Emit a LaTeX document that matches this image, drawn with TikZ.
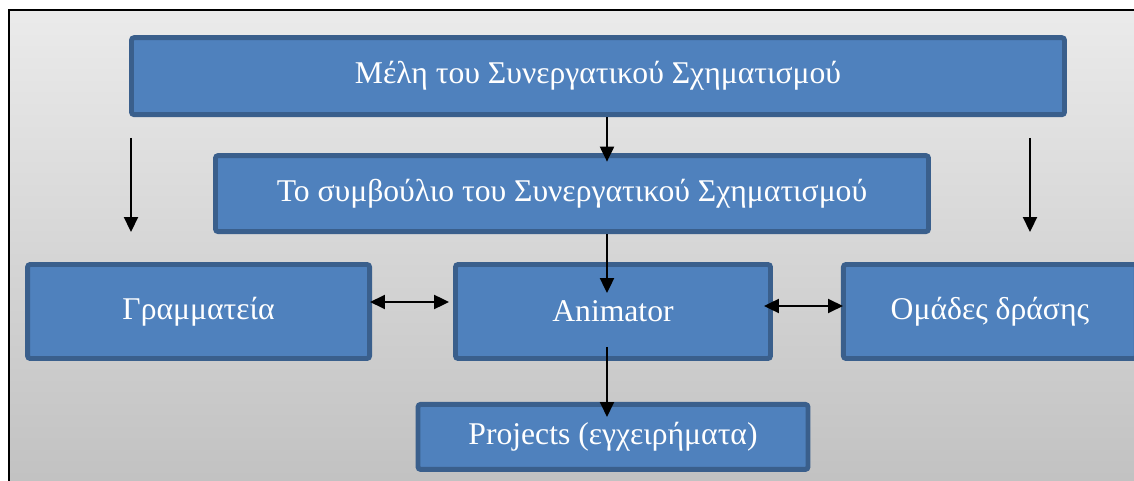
\documentclass[tikz,border=0pt]{standalone}
\usepackage{fontspec}
\setmainfont{Liberation Serif}
\usepackage{tikz}
\usetikzlibrary{positioning,calc}
\usetikzlibrary{arrows.meta}

\definecolor{boxfill}{HTML}{4F81BD}
\definecolor{boxline}{HTML}{3A5F8C}

\begin{document}
\begin{tikzpicture}[
  box/.style = {
    draw = boxline,
    fill = boxfill,
    line width = 2.8pt,
    rounded corners = 1.5pt,
    text = white,
    font = \fontsize{18}{20}\selectfont,
    inner sep = 0pt,
  },
  link/.style = {
    line width = 1pt,
  },
  >={Triangle[length=8.5pt,width=8pt]},
]

  \useasboundingbox (0,0) rectangle (22.68,-9.62);
  \clip (0,0) rectangle (22.68,-9.62);
  \draw[line width=1pt, top color=black!8, bottom color=black!25]
    (0.18,-0.2) rectangle (23.2,-10.2);

  \node[box, minimum width=6.3cm, minimum height=1.88cm] (anim) at (12.26,-6.23) {Animator};

  \node[box, minimum width=6.84cm, minimum height=1.88cm] (gram) [left=1.62cm of anim] {Γραμματεία};
  \node[box, minimum width=5.86cm, minimum height=1.88cm] (omades) [right=1.36cm of anim] {Ομάδες δράσης};
  \node[box, minimum width=7.8cm, minimum height=1.3cm] (proj) [below=0.82cm of anim] {Projects (εγχειρήματα)};

  \node[box, minimum width=14.26cm, minimum height=1.52cm] (symv) [above=0.56cm of anim, xshift=-0.82cm]
    {Το συμβούλιο του Συνεργατικού Σχηματισμού};
  \node[box, minimum width=18.66cm, minimum height=1.54cm] (meli) [above=0.72cm of symv, xshift=0.52cm]
    {Μέλη του Συνεργατικού Σχηματισμού};

  % vertical spine of the middle arrows
  \coordinate (spine) at (12.14,0);

  \coordinate (l1) at (2.62,-2.76);
  \coordinate (l2) at (2.62,-4.64);
  \coordinate (r1) at (20.6,-2.76);
  \coordinate (r2) at (20.6,-4.64);

  \draw[link,->] (l1) -- (l2);
  \draw[link,->] (r1) -- (r2);

  \draw[link,->] (meli.south -| spine) -- ($(symv.north -| spine)+(0,-0.17)$);
  \draw[link,->] (symv.south -| spine) -- ($(anim.north -| spine)+(0,-0.62)$);
  \draw[link,->] ($(anim.south -| spine)+(0,0.28)$) -- ($(proj.north -| spine)+(0,-0.3)$);

  \draw[link,<->] ($(gram.east)+(-0.04,0.19)$) -- ($(anim.west)+(-0.08,0.19)$);
  \draw[link,<->] ($(anim.east)+(-0.18,0.11)$) -- ($(omades.west)+(0.04,0.11)$);
\end{tikzpicture}
\end{document}
